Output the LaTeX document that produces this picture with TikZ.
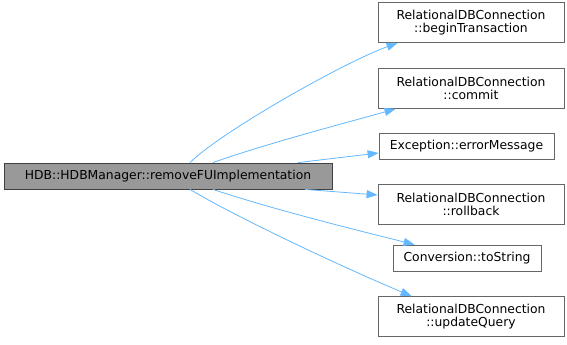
\documentclass[tikz,border=0pt]{standalone}
\usepackage{fontspec}
\setmainfont{DejaVu Sans}
\usetikzlibrary{arrows.meta}
\definecolor{edgeblue}{HTML}{63B8FF}
\definecolor{boxline}{HTML}{666666}
\definecolor{boxgray}{HTML}{999999}

\begin{document}
\begin{tikzpicture}[x=1bp,y=1bp,
        fn/.style={draw=boxline, fill=white, line width=0.8bp, inner sep=0pt,
            minimum height=26bp, align=center, font=\fontsize{12.4}{12.5}\selectfont},
        fntwo/.style={fn, minimum width=186bp, minimum height=40bp},
        call/.style={draw=edgeblue, line width=0.8bp,
            -{Triangle[length=11bp,width=8bp,fill=edgeblue]}}]
        \useasboundingbox (0,0) rectangle (567,-344);
        \node[fn, fill=boxgray, draw=black!75, minimum width=328bp] (main) at (168,-176) {HDB::HDBManager::removeFUImplementation};
        \node[fntwo] (begin) at (471,-22.5) {RelationalDBConnection\\::beginTransaction};
        \node[fntwo] (commit) at (471,-88.5) {RelationalDBConnection\\::commit};
        \node[fn, minimum width=175bp] (errmsg) at (466.5,-146) {Exception::errorMessage};
        \node[fntwo] (rollback) at (471,-204.5) {RelationalDBConnection\\::rollback};
        \node[fn, minimum width=148bp] (tostr) at (467,-258) {Conversion::toString};
        \node[fntwo] (update) at (471,-316.5) {RelationalDBConnection\\::updateQuery};
        \draw[call] ([xshift=22bp]main.north) .. controls +(30,30) and +(-55,-20) .. ([xshift=20bp]begin.south west);
        \draw[call] ([xshift=45bp]main.north) .. controls +(50,18) and +(-50,-14) .. ([xshift=18bp]commit.south west);
        \draw[call] ([xshift=130bp]main.north) -- ([yshift=-7bp]errmsg.west);
        \draw[call] ([xshift=137bp]main.south) -- ([yshift=9.5bp]rollback.west);
        \draw[call] ([xshift=45bp]main.south) .. controls +(60,-20) and +(-60,15) .. ([xshift=22bp]tostr.north west);
        \draw[call] ([xshift=22bp]main.south) .. controls +(50,-30) and +(-60,25) .. ([xshift=34bp]update.north west);
\end{tikzpicture}
\end{document}
